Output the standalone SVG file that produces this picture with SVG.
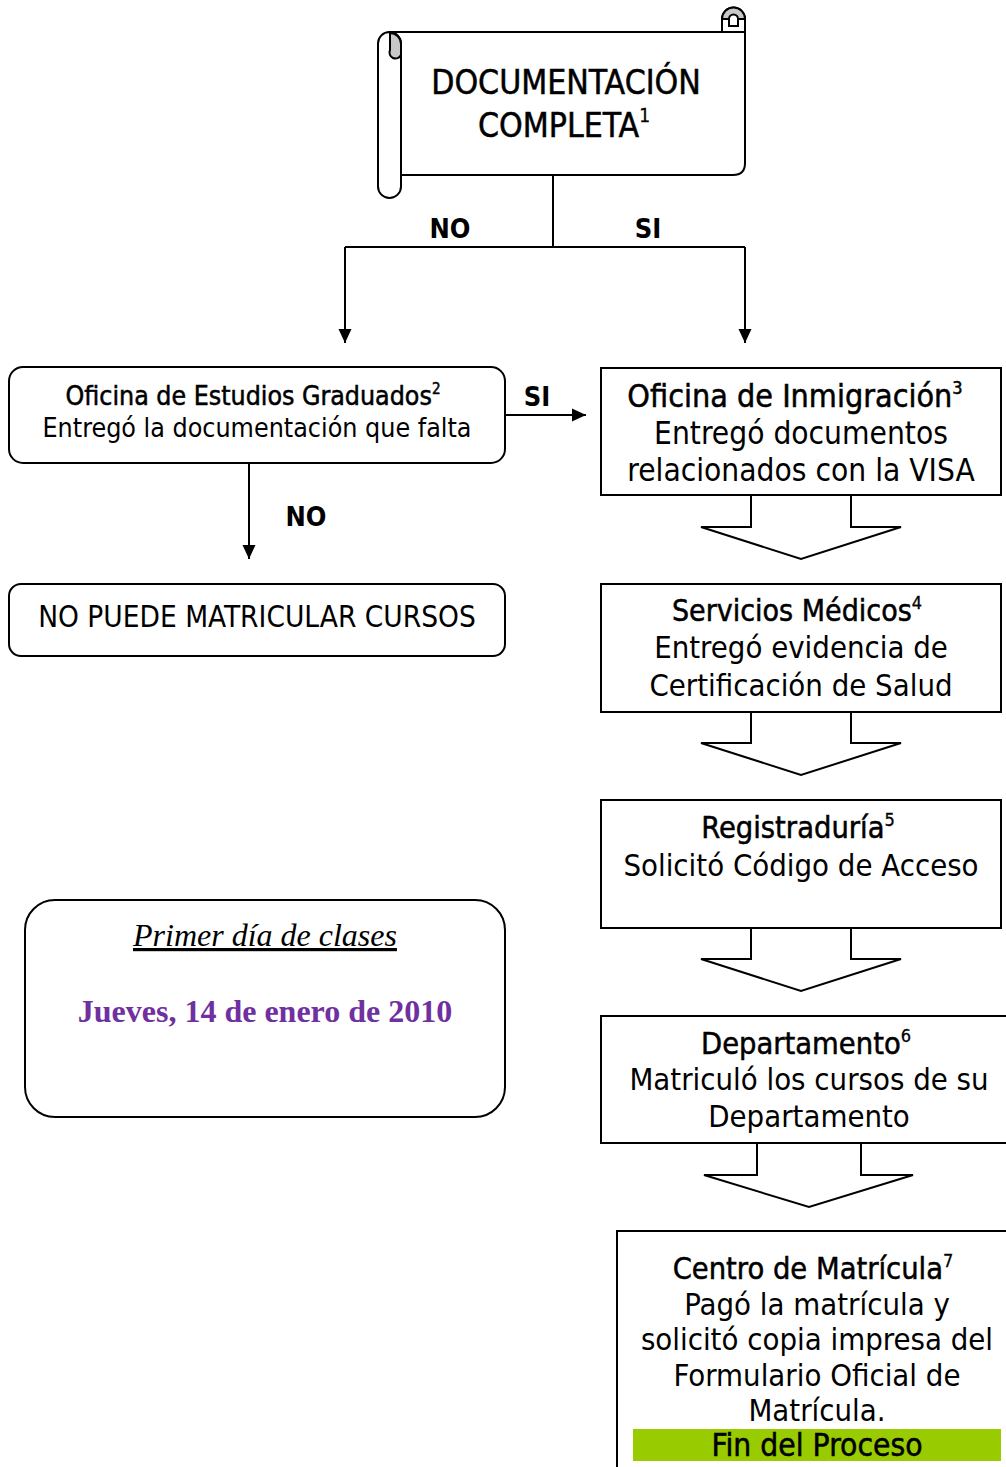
<svg xmlns="http://www.w3.org/2000/svg" width="1006" height="1467" viewBox="0 0 1006 1467">
<defs>
<marker id="ah" markerWidth="14" markerHeight="14" refX="14" refY="7" orient="auto" markerUnits="userSpaceOnUse" viewBox="0 0 14 14">
<path d="M0,0.5 L14,7 L0,13.5 z" fill="#000"/>
</marker>
<style>
.s{fill:#fff;stroke:#000;stroke-width:2}
.t{font-family:"DejaVu Sans Condensed","DejaVu Sans",sans-serif;font-stretch:condensed;fill:#000;text-anchor:middle}
.h{font-weight:bold}
.m{stroke:#000;stroke-width:0.5}
.ln{fill:none;stroke:#000;stroke-width:2}
</style>
</defs>
<rect width="1006" height="1467" fill="#fff"/>

<g id="connectors">
<path class="ln" d="M553,175 V247"/>
<path class="ln" d="M345,247 H745"/>
<path class="ln" d="M345,247 V343" marker-end="url(#ah)"/>
<path class="ln" d="M745,247 V343" marker-end="url(#ah)"/>
<path class="ln" d="M505,415 H586" marker-end="url(#ah)"/>
<path class="ln" d="M249,463 V559" marker-end="url(#ah)"/>
<text class="t h" x="450" y="238" font-size="27">NO</text>
<text class="t h" x="648" y="238" font-size="27">SI</text>
<text class="t h" x="537" y="406" font-size="27">SI</text>
<text class="t h" x="306" y="526" font-size="27">NO</text>
<path class="s" d="M751,495 V527 H701 L801,559 L901,527 H851 V495"/>
<path class="s" d="M751,712 V743 H701 L801,775 L901,743 H851 V712"/>
<path class="s" d="M751,928 V959 H701 L801,991 L901,959 H851 V928"/>
<path class="s" d="M757,1143 V1175 H704 L809,1207 L913,1175 H861 V1143"/>
</g>

<g id="doc-completa">
<path class="s" d="M390,32 H722 V19 A11.5,11.5 0 0 1 745,19 V163 Q745,175 733,175 H401"/>
<path class="ln" d="M722,32 H745"/>
<path d="M733.5,7.5 A11.5,11.5 0 0 1 745,19 L738,19 A4.5,4.5 0 0 0 729,19 L722,19 A11.5,11.5 0 0 1 733.5,7.5 z" fill="#c8c8c8" stroke="#000" stroke-width="2"/>
<path class="ln" d="M729,19 V26 H738 V19"/>
<rect class="s" x="378" y="32" width="23" height="166" rx="11.5"/>
<path d="M390,33 A11,11 0 0 1 401,44 V55 A5,5 0 0 1 390,50 z" fill="#c8c8c8" stroke="#000" stroke-width="2"/>
<text class="t m" x="566" y="94" font-size="33.5">DOCUMENTACIÓN</text>
<text class="t m" x="564" y="137" font-size="33.5">COMPLETA<tspan font-size="19" dy="-15" stroke-width="0.3">1</tspan></text>
</g>

<g id="oficina-graduados">
<rect class="s" x="9" y="367" width="496" height="96" rx="14"/>
<text class="t m" x="253" y="405" font-size="26.5" stroke-width="0.3">Oficina de Estudios Graduados<tspan font-size="15" dy="-11">2</tspan></text>
<text class="t" x="257" y="437" font-size="26.6">Entregó la documentación que falta</text>
</g>

<g id="no-puede">
<rect class="s" x="9" y="584" width="496" height="72" rx="12"/>
<text class="t" x="257" y="627" font-size="29.5">NO PUEDE MATRICULAR CURSOS</text>
</g>

<g id="inmigracion">
<rect class="s" x="601" y="368" width="400" height="127"/>
<text class="t m" x="795" y="407" font-size="32" stroke-width="0.4">Oficina de Inmigración<tspan font-size="18" dy="-13">3</tspan></text>
<text class="t" x="801" y="444" font-size="31.4">Entregó documentos</text>
<text class="t" x="801" y="481" font-size="31.4">relacionados con la VISA</text>
</g>

<g id="servicios-medicos">
<rect class="s" x="601" y="584" width="400" height="128"/>
<text class="t m" x="797" y="621" font-size="30">Servicios Médicos<tspan font-size="18" dy="-12" stroke-width="0.3">4</tspan></text>
<text class="t" x="801" y="658" font-size="30.8">Entregó evidencia de</text>
<text class="t" x="801" y="696" font-size="30.8">Certificación de Salud</text>
</g>

<g id="registraduria">
<rect class="s" x="601" y="800" width="400" height="128"/>
<text class="t m" x="798" y="838" font-size="30.5">Registraduría<tspan font-size="18" dy="-12" stroke-width="0.3">5</tspan></text>
<text class="t" x="801" y="876" font-size="30.8">Solicitó Código de Acceso</text>
</g>

<g id="departamento">
<rect class="s" x="601" y="1016" width="410" height="127"/>
<text class="t m" x="806" y="1054" font-size="30.5">Departamento<tspan font-size="18" dy="-12" stroke-width="0.3">6</tspan></text>
<text class="t" x="809" y="1090" font-size="30.8">Matriculó los cursos de su</text>
<text class="t" x="809" y="1127" font-size="30.8">Departamento</text>
</g>

<g id="centro-matricula">
<rect class="s" x="617" y="1231" width="400" height="250"/>
<text class="t m" x="813" y="1279" font-size="30.5">Centro de Matrícula<tspan font-size="18" dy="-12" stroke-width="0.3">7</tspan></text>
<text class="t" x="817" y="1315" font-size="30.8">Pagó la matrícula y</text>
<text class="t" x="817" y="1350" font-size="30.8">solicitó copia impresa del</text>
<text class="t" x="817" y="1386" font-size="30.8">Formulario Oficial de</text>
<text class="t" x="817" y="1421" font-size="30.8">Matrícula.</text>
<rect x="633" y="1429" width="368" height="32" fill="#99cc00"/>
<text class="t m" x="817" y="1456" font-size="31.5">Fin del Proceso</text>
</g>

<g id="primer-dia">
<rect class="s" x="25" y="900" width="480" height="217" rx="30"/>
<text x="265" y="946" font-family="Liberation Serif,serif" font-style="italic" font-size="32" text-anchor="middle" text-decoration="underline">Primer día de clases</text>
<text x="265" y="1022" font-family="Liberation Serif,serif" font-weight="bold" font-size="32" fill="#7030a0" text-anchor="middle">Jueves, 14 de enero de 2010</text>
</g>
</svg>
